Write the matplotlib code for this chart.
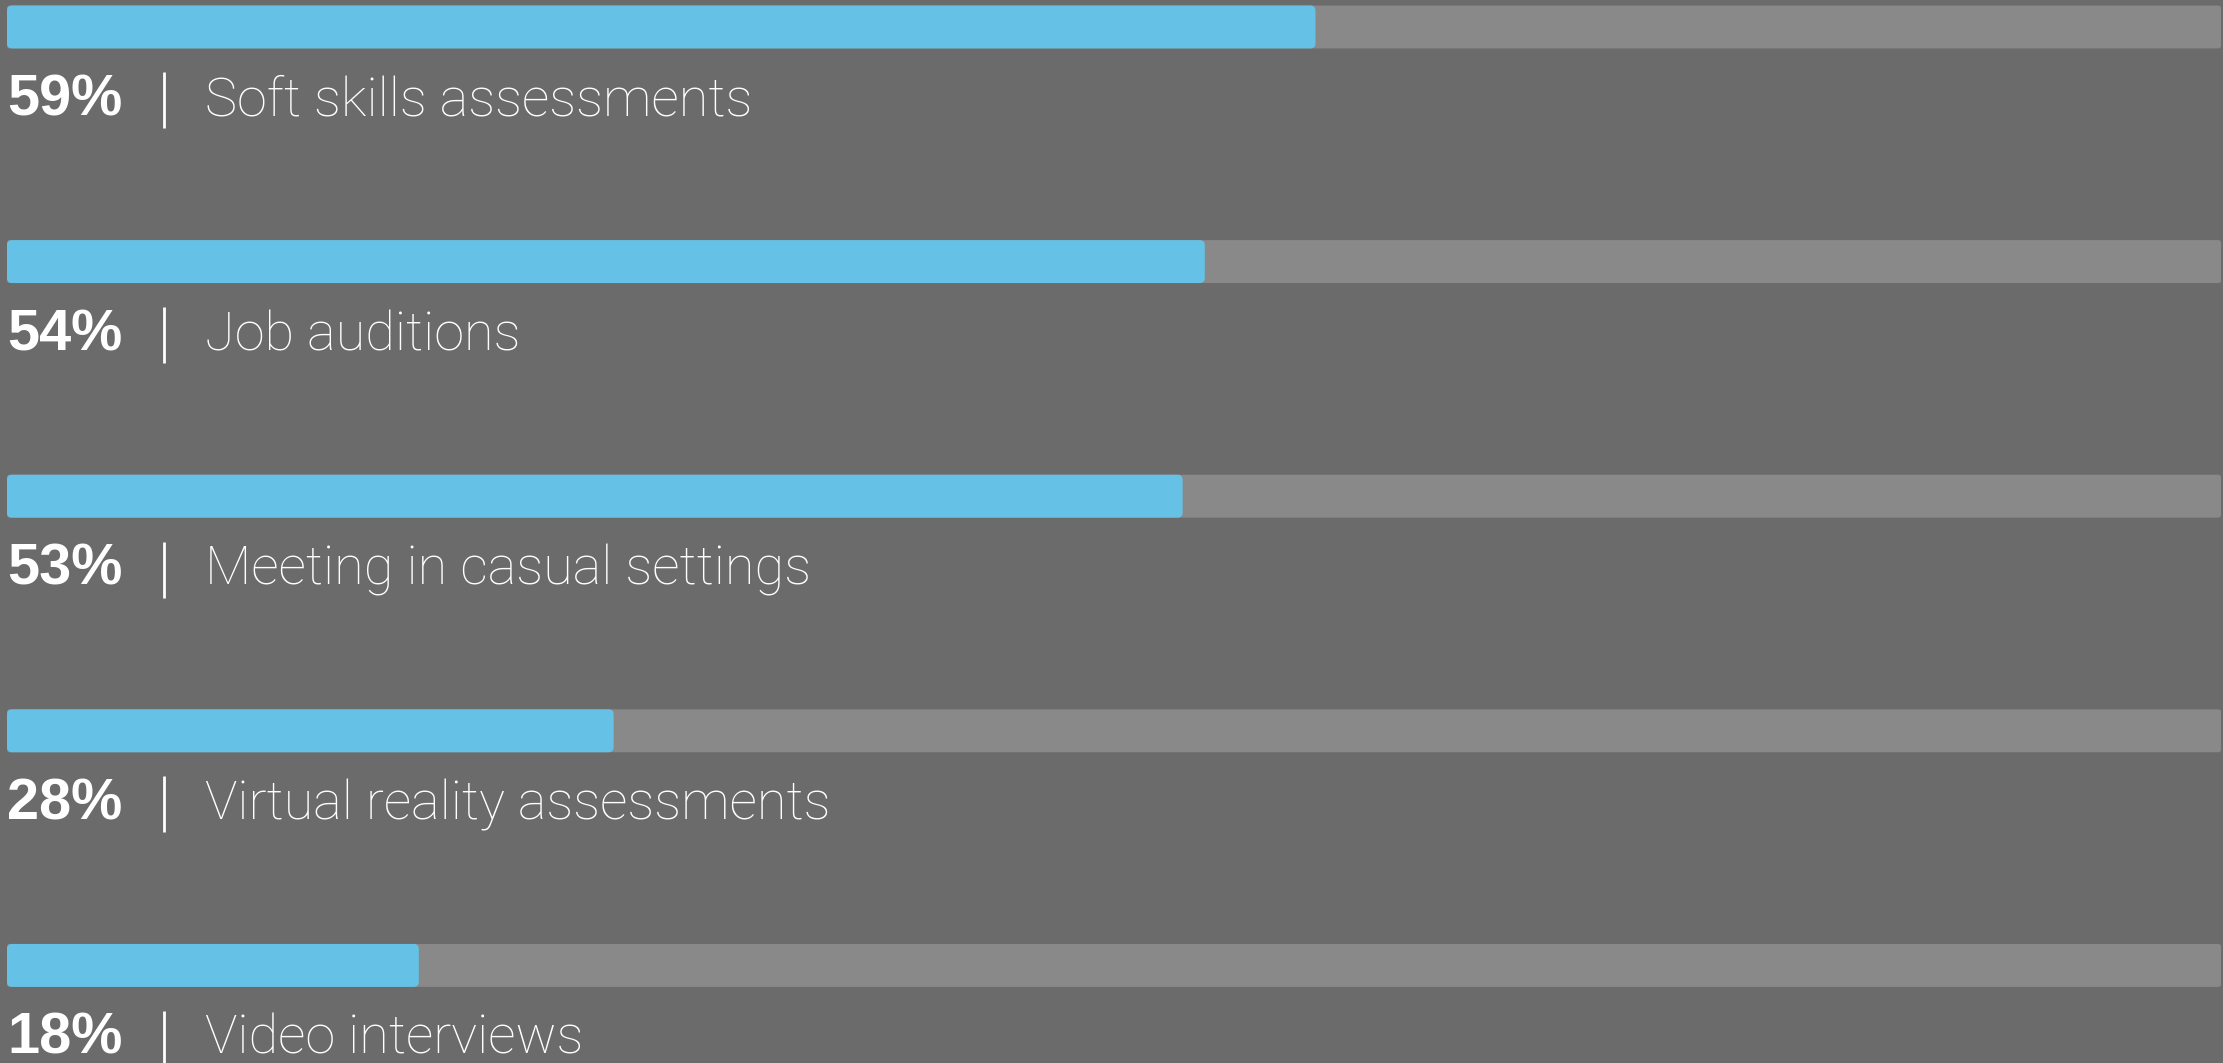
import matplotlib
matplotlib.use('Agg')
import matplotlib.pyplot as plt
from matplotlib.patches import FancyBboxPatch

# data
labels = ['Soft skills assessments', 'Job auditions', 'Meeting in casual settings',
          'Virtual reality assessments', 'Video interviews']
pct_labels = ['59%', '54%', '53%', '28%', '18%']
values = [59.1, 54.1, 53.1, 27.4, 18.6]

BG = '#6b6b6b'
TRACK = '#898989'
BLUE = '#65c2e6'

fig = plt.figure(figsize=(22.23, 10.63), dpi=100, facecolor=BG)
ax = fig.add_axes([0, 0, 1, 1])
ax.set_facecolor(BG)
ax.set_xlim(-0.316, 100.09)
ax.set_ylim(4.416, -0.115)
ax.axis('off')

bar_h = 0.183
# x units are ~22.14 px, y units ~234.7 px
aspect = 22.14 / 234.7


def rounded_bar(y0, length, color, r):
    p = FancyBboxPatch((0, y0 - bar_h / 2), length, bar_h,
                       boxstyle=f'round,pad=0,rounding_size={r}',
                       mutation_aspect=aspect, color=color, lw=0)
    ax.add_patch(p)


for i, (lab, pl, v) in enumerate(zip(labels, pct_labels, values)):
    rounded_bar(i, 100, TRACK, 0.12)
    rounded_bar(i, v, BLUE, 0.23)
    ax.text(0, i + 0.377, pl, ha='left', va='baseline', fontsize=41.5,
            fontweight='bold', color='white', family='Liberation Sans')
    ax.vlines(7.09, i + 0.194, i + 0.432, color='white', lw=2.0)
    ax.text(8.94, i + 0.377, lab, ha='left', va='baseline', fontsize=39,
            fontweight='light', color='white', family='Roboto')

fig.savefig('out.png', dpi=100, facecolor=BG)
